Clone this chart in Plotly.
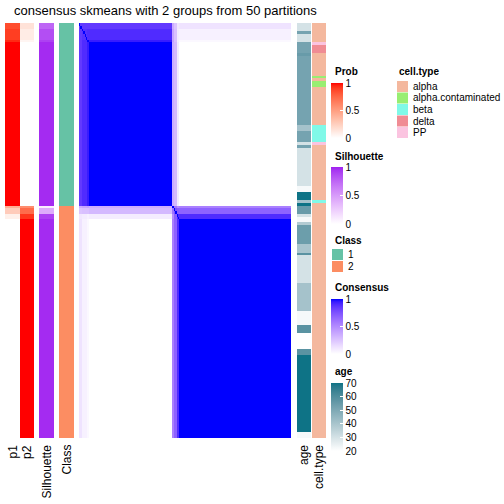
import numpy as np
import plotly.graph_objects as go

W = H = 504
FONT = "Liberation Sans, Arial, sans-serif"

# ---------------- data ----------------
seg_counts = [2, 4, 1, 59, 1, 2, 2, 79]            # sample segments (row order)
prob1_values = [0.85, 0.90, 0.95, 1.00, 0.42, 0.27, 0.08, 0.00]
prob2_values = [0.15, 0.10, 0.05, 0.00, 0.58, 0.73, 0.92, 1.00]
silhouette_values = [0.75, 0.85, 0.90, 0.97, 0.08, 0.42, 0.90, 0.97]
class_values = [1, 2]
class_counts = [66, 84]
consensus_block = [
    [0.85, 0.85, 0.85, 0.85, 0.35, 0.25, 0.10, 0.12],
    [0.85, 0.88, 0.90, 0.90, 0.38, 0.27, 0.08, 0.06],
    [0.85, 0.90, 1.00, 0.95, 0.40, 0.27, 0.06, 0.03],
    [0.85, 0.90, 0.95, 1.00, 0.35, 0.30, 0.08, 0.00],
    [0.35, 0.38, 0.40, 0.35, 1.00, 0.60, 0.50, 0.55],
    [0.25, 0.27, 0.27, 0.30, 0.60, 0.75, 0.70, 0.68],
    [0.10, 0.08, 0.06, 0.08, 0.50, 0.70, 0.90, 0.90],
    [0.12, 0.06, 0.03, 0.00, 0.55, 0.68, 0.90, 1.00],
]
age_values = [30, 52, 30, 52, 55, 52, 41, 52, 30, 52, 30, 22, 70, 41, 70, 55, 30, 22,
              38, 54, 40, 58, 30, 41, 22, 58, 20, 58, 70, 22]
age_counts = [3, 1, 3, 4, 1, 25, 2, 4, 1, 1, 14, 2, 3, 1, 1, 3, 1, 2,
              1, 7, 3, 1, 10, 10, 5, 3, 6, 2, 28, 2]
celltype_names = ["alpha", "alpha.contaminated", "beta", "delta", "PP"]
celltype_colors = ["#F4B89E", "#98EE72", "#80F9E8", "#F08C94", "#FBC4E0"]
celltype_values = ["alpha", "PP", "delta", "alpha", "alpha.contaminated", "alpha",
                   "alpha.contaminated", "alpha", "beta", "PP", "alpha", "beta", "alpha"]
celltype_counts = [7, 1, 3, 8, 1, 1, 2, 14, 6, 1, 20, 1, 85]
class_colors = {1: "#66C2A5", 2: "#FC8D62"}

# ---------------- expand ----------------
seg_idx = np.repeat(np.arange(len(seg_counts)), seg_counts)
N = len(seg_idx)
p1 = np.repeat(prob1_values, seg_counts)
p2 = np.repeat(prob2_values, seg_counts)
sil = np.repeat(silhouette_values, seg_counts)
cls = np.repeat(class_values, class_counts)
blk = np.array(consensus_block)
cons = blk[seg_idx][:, seg_idx].copy()
np.fill_diagonal(cons, 1.0)
age = np.repeat(age_values, age_counts)
ct = np.repeat([celltype_names.index(v) for v in celltype_values], celltype_counts)


# ---------------- LAB colour ramps ----------------
def hex2rgb(h):
    h = h.lstrip("#")
    return [int(h[i:i + 2], 16) / 255 for i in (0, 2, 4)]


def rgb2lab(c):
    c = [((v + 0.055) / 1.055) ** 2.4 if v > 0.04045 else v / 12.92 for v in c]
    x = (0.4124 * c[0] + 0.3576 * c[1] + 0.1805 * c[2]) / 0.95047
    y = (0.2126 * c[0] + 0.7152 * c[1] + 0.0722 * c[2])
    z = (0.0193 * c[0] + 0.1192 * c[1] + 0.9505 * c[2]) / 1.08883
    f = lambda t: t ** (1 / 3) if t > 0.008856 else 7.787 * t + 16 / 116
    fx, fy, fz = f(x), f(y), f(z)
    return [116 * fy - 16, 500 * (fx - fy), 200 * (fy - fz)]


def lab2hex(l):
    fy = (l[0] + 16) / 116
    fx = fy + l[1] / 500
    fz = fy - l[2] / 200
    g = lambda t: t ** 3 if t ** 3 > 0.008856 else (t - 16 / 116) / 7.787
    x, y, z = g(fx) * 0.95047, g(fy), g(fz) * 1.08883
    r = 3.2406 * x - 1.5372 * y - 0.4986 * z
    gg = -0.9689 * x + 1.8758 * y + 0.0415 * z
    b = 0.0557 * x - 0.2040 * y + 1.0570 * z
    out = []
    for v in (r, gg, b):
        v = 1.055 * v ** (1 / 2.4) - 0.055 if v > 0.0031308 else 12.92 * v
        out.append(int(round(min(max(v, 0), 1) * 255)))
    return "#%02x%02x%02x" % tuple(out)


def ramp(c0, c1, n=21):
    a, b = rgb2lab(hex2rgb(c0)), rgb2lab(hex2rgb(c1))
    return [[i / (n - 1), lab2hex([a[k] + (b[k] - a[k]) * i / (n - 1) for k in range(3)])]
            for i in range(n)]


cs_prob = ramp("#FFFFFF", "#FF0000")
cs_sil = ramp("#FFFFFF", "#A020F0")
cs_cons = ramp("#FFFFFF", "#0000FF")
cs_age = ramp("#FFFFFF", "#0E7386")

cs_class = [[0, class_colors[1]], [0.5, class_colors[1]], [0.5, class_colors[2]], [1, class_colors[2]]]
cs_ct = []
K = len(celltype_names)
for k, c in enumerate(celltype_colors):
    lo = max(0, (k - 0.5) / (K - 1))
    hi = min(1, (k + 0.5) / (K - 1))
    cs_ct += [[lo, c], [hi, c]]


def px(x):
    return x / W


def py(y):
    return 1 - y / H


def cbar(top, length, vals, texts):
    return dict(x=px(331), xanchor="left", y=py(top), yanchor="top",
                len=length, lenmode="pixels", thickness=12, thicknessmode="pixels",
                xpad=0, ypad=0, outlinewidth=0, ticks="inside", ticklen=3,
                tickcolor="white", tickvals=vals, ticktext=texts,
                tickfont=dict(family=FONT, size=10, color="black"))


rows = list(range(N))
fig = go.Figure()
col = lambda a: [[v] for v in a]

fig.add_trace(go.Heatmap(z=col(p1), x=[0], y=rows, xaxis="x", yaxis="y", colorscale=cs_prob,
                         zmin=0, zmax=1, colorbar=cbar(83, 55, [0, 0.5, 1], ["0", "0.5", "1"])))
fig.add_trace(go.Heatmap(z=col(p2), x=[0], y=rows, xaxis="x2", yaxis="y", colorscale=cs_prob,
                         zmin=0, zmax=1, showscale=False))
fig.add_trace(go.Heatmap(z=col(sil), x=[0], y=rows, xaxis="x3", yaxis="y", colorscale=cs_sil,
                         zmin=0, zmax=1, colorbar=cbar(167, 57, [0, 0.5, 1], ["0", "0.5", "1"])))
fig.add_trace(go.Heatmap(z=col(cls), x=[0], y=rows, xaxis="x4", yaxis="y", colorscale=cs_class,
                         zmin=1, zmax=2, showscale=False))
fig.add_trace(go.Heatmap(z=cons, x=list(range(N)), y=rows, xaxis="x5", yaxis="y", colorscale=cs_cons,
                         zmin=0, zmax=1, colorbar=cbar(299, 55, [0, 0.5, 1], ["0", "0.5", "1"])))
age_ticks = [20, 30, 40, 50, 60, 70]
fig.add_trace(go.Heatmap(z=col(age), x=[0], y=rows, xaxis="x6", yaxis="y", colorscale=cs_age,
                         zmin=20, zmax=70, colorbar=cbar(383, 68, age_ticks, [str(t) for t in age_ticks])))
fig.add_trace(go.Heatmap(z=col(ct), x=[0], y=rows, xaxis="x7", yaxis="y", colorscale=cs_ct,
                         zmin=0, zmax=K - 1, showscale=False))

domains = [(5, 20), (20, 34), (39, 54), (59, 74), (79, 291), (297, 311), (312, 326)]
layout = dict(width=W, height=H, margin=dict(l=0, r=0, t=0, b=0, autoexpand=False),
              paper_bgcolor="white", plot_bgcolor="white", showlegend=False,
              yaxis=dict(domain=[py(438), py(23)], range=[N - 0.5, -0.5], visible=False, fixedrange=True))
for i, (a, b) in enumerate(domains):
    key = "xaxis" if i == 0 else "xaxis%d" % (i + 1)
    layout[key] = dict(domain=[px(a), px(b)], anchor="y", visible=False, fixedrange=True)
fig.update_layout(**layout)

ann = []
ann.append(dict(text="consensus skmeans with 2 groups from 50 partitions", x=px(165.5), y=py(10),
                xref="paper", yref="paper", xanchor="center", yanchor="middle", showarrow=False,
                font=dict(family=FONT, size=13, color="black")))
bottom = [("p1", 12.5), ("p2", 27), ("Silhouette", 46.5), ("Class", 66.5), ("age", 304), ("cell.type", 319)]
for t, xc in bottom:
    ann.append(dict(text=t, x=px(xc), y=py(443), xref="paper", yref="paper", textangle=-90,
                    xanchor="center", yanchor="top", showarrow=False,
                    font=dict(family=FONT, size=12, color="black")))
titles = [("Prob", 333, 72), ("cell.type", 397, 72), ("Silhouette", 333, 156), ("Class", 333, 240),
          ("Consensus", 333, 287), ("age", 333, 371)]
for t, x, y in titles:
    ann.append(dict(text="<b>%s</b>" % t, x=px(x), y=py(y), xref="paper", yref="paper",
                    xanchor="left", yanchor="middle", showarrow=False,
                    font=dict(family=FONT, size=10, color="black")))

shapes = []
for i, v in enumerate(class_values):
    y0 = 249 + i * 12
    shapes.append(dict(type="rect", xref="paper", yref="paper", x0=px(332), x1=px(343),
                       y0=py(y0), y1=py(y0 + 11), fillcolor=class_colors[v], line=dict(width=0)))
    ann.append(dict(text=str(v), x=px(346), y=py(y0 + 5.5), xref="paper", yref="paper",
                    xanchor="left", yanchor="middle", showarrow=False,
                    font=dict(family=FONT, size=10, color="black")))
for i, (n, c) in enumerate(zip(celltype_names, celltype_colors)):
    y0 = 81 + i * 11.5
    shapes.append(dict(type="rect", xref="paper", yref="paper", x0=px(397), x1=px(408),
                       y0=py(y0), y1=py(y0 + 11), fillcolor=c, line=dict(width=0)))
    ann.append(dict(text=n, x=px(411), y=py(y0 + 5.5), xref="paper", yref="paper",
                    xanchor="left", yanchor="middle", showarrow=False,
                    font=dict(family=FONT, size=10, color="black")))

fig.update_layout(annotations=ann, shapes=shapes)
fig.write_html("out.html", config={"displayModeBar": False},
               post_script="document.body.style.margin='0px';document.body.style.overflow='hidden';")
